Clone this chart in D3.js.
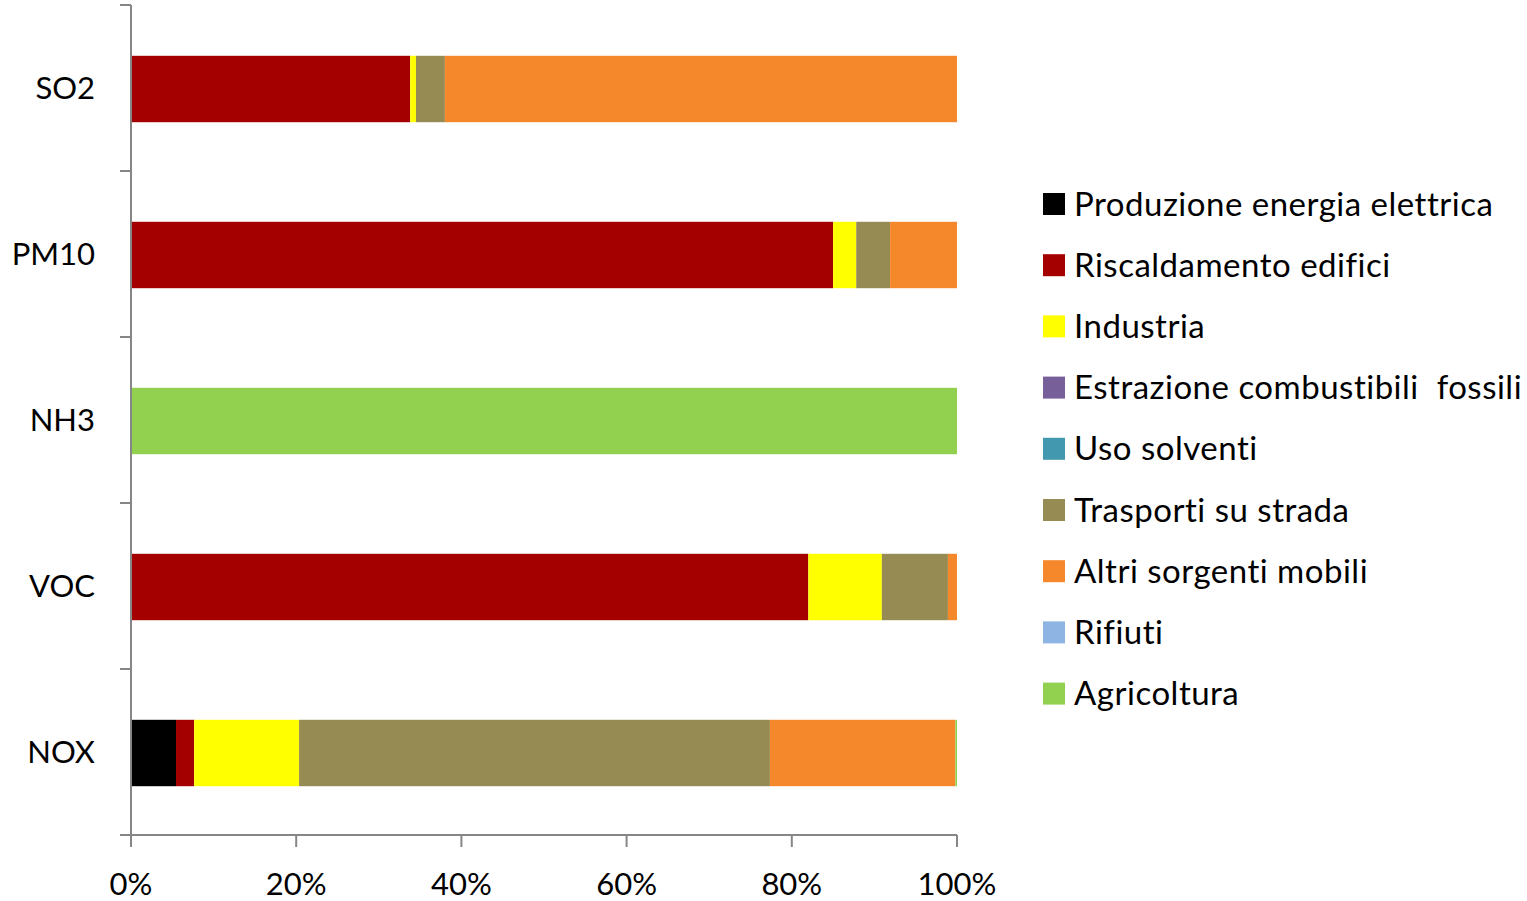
<!DOCTYPE html>
<html><head><meta charset="utf-8">
<script src="https://cdn.jsdelivr.net/npm/d3@7"></script>
<style>body{margin:0;background:#fff}svg{display:block}</style>
</head><body>
<svg id="c" width="1527" height="901"></svg>
<script>
const categories = ["SO2","PM10","NH3","VOC","NOX"];
const seriesNames = ["Produzione energia elettrica","Riscaldamento edifici","Industria","Estrazione combustibili  fossili","Uso solventi","Trasporti su strada","Altri sorgenti mobili","Rifiuti","Agricoltura"];
const seriesColors = ["#000000","#A50000","#FFFF00","#77609A","#4298AF","#958B53","#F5882B","#8EB4E3","#92D050"];
// values in % per category, order of seriesNames
const energia      = [0,    0,    0,   0,    5.45];
const riscaldamento= [33.8, 85.0, 0,   82.0, 2.2];
const industria    = [0.7,  2.8,  0,   8.9,  12.7];
const estrazione   = [0,    0,    0,   0,    0];
const solventi     = [0,    0,    0,   0,    0];
const trasporti    = [3.5,  4.1,  0,   8.0,  57.0];
const altri        = [62.0, 8.1,  0,   1.1,  22.45];
const rifiuti      = [0,    0,    0,   0,    0];
const agricoltura  = [0,    0,    100, 0,    0.2];
const xTicks = [0,20,40,60,80,100];

const seriesValues = [energia,riscaldamento,industria,estrazione,solventi,trasporti,altri,rifiuti,agricoltura];
const rows = categories.map((c,i)=>{const r={cat:c}; seriesNames.forEach((s,j)=>r[s]=seriesValues[j][i]); return r;});
const stack = d3.stack().keys(seriesNames).offset(d3.stackOffsetExpand)(rows);

const svg = d3.select("#c");
const font = "Lato, 'Open Sans', sans-serif";
const fs = 31;
const x = d3.scaleLinear().domain([0,1]).range([131,957]);
const y = d3.scaleBand().domain(categories).range([6,836]).paddingInner(0.6).paddingOuter(0.3);
const yOuter = d3.scaleBand().domain(categories).range([5,835]);

svg.append("g").selectAll("g").data(stack).join("g")
  .attr("fill",(d,i)=>seriesColors[i])
  .selectAll("rect").data(d=>d).join("rect")
  .attr("x",d=>x(d[0])).attr("width",d=>Math.max(0,x(d[1])-x(d[0])))
  .attr("y",d=>y(d.data.cat)).attr("height",y.bandwidth());

const axisColor = "#868686";
// y axis
svg.append("line").attr("x1",131).attr("x2",131).attr("y1",5).attr("y2",835).attr("stroke",axisColor).attr("stroke-width",2);
const yb = categories.map(c=>yOuter(c)).concat([835]);
svg.append("g").selectAll("line").data(yb).join("line")
  .attr("x1",120).attr("x2",131).attr("y1",d=>d).attr("y2",d=>d).attr("stroke",axisColor).attr("stroke-width",2);
svg.append("g").selectAll("text").data(categories).join("text")
  .attr("x",95).attr("y",c=>yOuter(c)+yOuter.bandwidth()/2).attr("dy","0.35em")
  .attr("text-anchor","end").attr("font-family",font).attr("font-size",fs).attr("fill","#000").text(d=>d);
// x axis
svg.append("line").attr("x1",120).attr("x2",957).attr("y1",835).attr("y2",835).attr("stroke",axisColor).attr("stroke-width",2);
svg.append("g").selectAll("line").data(xTicks).join("line")
  .attr("x1",d=>x(d/100)).attr("x2",d=>x(d/100)).attr("y1",835).attr("y2",847).attr("stroke",axisColor).attr("stroke-width",2);
svg.append("g").selectAll("text").data(xTicks).join("text")
  .attr("x",d=>x(d/100)).attr("y",895).attr("text-anchor","middle")
  .attr("font-family",font).attr("font-size",fs).attr("fill","#000").text(d=>d+"%");
// legend
const lg = svg.append("g").selectAll("g").data(seriesNames).join("g")
  .attr("transform",(d,i)=>`translate(1043,${204+i*61.2})`);
lg.append("rect").attr("x",0).attr("y",-11).attr("width",22).attr("height",22).attr("fill",(d,i)=>seriesColors[i]);
lg.append("text").attr("x",31).attr("dy","0.35em").attr("font-family",font).attr("font-size",33)
  .attr("letter-spacing","0.5px").attr("fill","#000")
  .attr("xml:space","preserve").style("white-space","pre").text(d=>d);
</script>
</body></html>
